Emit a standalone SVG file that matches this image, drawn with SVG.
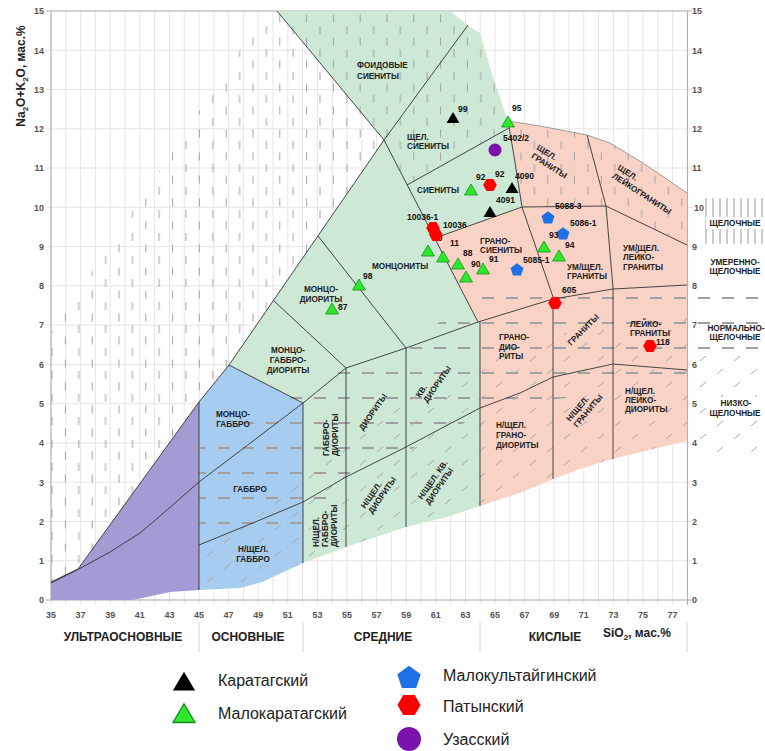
<svg xmlns="http://www.w3.org/2000/svg" width="765" height="751" viewBox="0 0 765 751">
<style>
text { font-family: "Liberation Sans", Arial, sans-serif; }
.rl { font-size: 8.2px; font-weight: bold; fill: #222; }
.pl { font-size: 8.5px; font-weight: bold; fill: #111; }
.ax { font-size: 9px; font-weight: bold; fill: #555; }
.cat { font-size: 12px; font-weight: bold; fill: #222; }
.lg { font-size: 16px; fill: #222; }
.bd { fill: none; stroke: #333; stroke-width: 0.9; stroke-linejoin: round; }
.grid { fill: none; stroke: #dedede; stroke-width: 0.8; }
.k { fill: #000; }
.g { fill: #2ee82e; stroke: #1b8f1b; stroke-width: 0.8; }
.b { fill: #1f6fe6; }
.r { fill: #ff0000; }
.v { fill: #7a12ad; }
</style>
<defs>
<pattern id="pv" patternUnits="userSpaceOnUse" x="51" y="0" width="26.8" height="23"><path d="M1,3v8M14.4,14.5v8" stroke="#a3a3a3" stroke-width="1"/></pattern>
<pattern id="ps" patternUnits="userSpaceOnUse" width="34" height="26"><path d="M3,10l6,-5M20,23l6,-5" stroke="#a8a8a8" stroke-width="1"/></pattern>
<pattern id="ph" patternUnits="userSpaceOnUse" x="0" y="0" width="24" height="25"><path d="M2,23h12" stroke="#a0a0a0" stroke-width="2"/></pattern>
<path id="tri" d="M0,-6 L6.5,5 L-6.5,5 Z"/>
<path id="pen" d="M0,-6.8 L6.5,-2.1 L4,5.5 L-4,5.5 L-6.5,-2.1 Z"/>
<path id="hex" d="M-6.8,0 L-3.4,-5.9 L3.4,-5.9 L6.8,0 L3.4,5.9 L-3.4,5.9 Z"/>
</defs>
<rect width="765" height="751" fill="#fff"/>

<g id="grid">
<path class="grid" d="M51,11V605M65.8,11V605M80.6,11V605M95.4,11V605M110.2,11V605M125,11V605M139.8,11V605M154.6,11V605M169.4,11V605M184.2,11V605M199,11V605M213.8,11V605M228.6,11V605M243.4,11V605M258.2,11V605M273,11V605M287.8,11V605M302.6,11V605M317.4,11V605M332.2,11V605M347,11V605M361.8,11V605M376.6,11V605M391.4,11V605M406.2,11V605M421,11V605M435.8,11V605M450.6,11V605M465.4,11V605M480.2,11V605M495,11V605M509.8,11V605M524.6,11V605M539.4,11V605M554.2,11V605M569,11V605M583.8,11V605M598.6,11V605M613.4,11V605M628.2,11V605M643,11V605M657.8,11V605M672.6,11V605"/>
<path class="grid" d="M46,560.7H692M46,521.5H692M46,482.2H692M46,442.9H692M46,403.7H692M46,364.4H692M46,325.1H692M46,285.8H692M46,246.6H692M46,207.3H692M46,168H692M46,128.8H692M46,89.5H692M46,50.2H692"/>
<path d="M46,11H692M51,11V600M687.4,11V605M46,600H692" fill="none" stroke="#a8a8a8" stroke-width="1"/>
</g>

<g id="fields">
<polygon id="ultra" points="51,582 78,569 199,402 199,590 170,592 133,600 51,600" fill="#a29bd4"/>
<polygon id="basic" points="199,402 229,365 303,403 303,563 262,582 240,588 199,590" fill="#a6cdef"/>
<polygon id="middle" points="229,365 384,140 277,11 450,11 470,27 480,33 493,77 508,121 513,150 522,207 435,238 478,322 480,322 480,506 447,517 406,527 346,547 303,563 303,403" fill="#cde8d4"/>
<polygon id="acid" points="508,121 540,126 587,135 610,143 643,163 687,193 687,441 612,459 583,468 553,479 520,493 480,506 480,322 478,322 435,238 522,207 513,150" fill="#f9d2c6"/>
</g>

<g id="textures">
<polygon points="51,333 266,11 450,11 470,27 480,33 493,77 508,121 540,126 587,135 610,143 643,163 687,193 687,245 606,206 522,207 513,150 509,128 407,185 384,140 229,365 199,402 78,569 51,582" fill="url(#pv)"/>
<polygon points="199,440 303,392 345,368 400,352 407,345 478,295 765,292 765,356 687,356 687,385 500,405 450,430 400,455 346,480 320,505 303,530 199,535" fill="url(#ph)"/>
<polygon points="199,545 303,480 406,400 480,360 553,335 687,315 687,441 612,459 583,468 553,479 520,493 480,506 447,517 406,527 346,547 303,563 262,582 240,588 199,590" fill="url(#ps)"/>
<polygon points="690,356 765,356 765,452 690,452" fill="url(#ps)"/>
<path d="M706,198V244M713,198V244M720,198V244M727,198V244M734,198V244M741,198V244M748,198V244M755,198V244M762,198V244" stroke="#9a9a9a" stroke-width="1"/>
<rect x="706" y="217" width="57" height="12" fill="#fff"/>
<rect x="707" y="397" width="57" height="22" fill="#fff"/>
</g>

<g id="connectors">
<polyline class="bd" points="51,582 78,569 199,402 229,365 384,140 468,25"/>
<polyline class="bd" points="277,11 384,140 478,322"/>
<polyline class="bd" points="51,583 77,570 110,552 140,533 167,510 199,482 303,403"/>
<polyline class="bd" points="199,545 260,520 303,502 346,477 406,447 480,408 520,393 553,377 613,364 687,370"/>
<path class="bd" d="M199,402V590M303,403V563M346,368V547M406,348V527M480,322V506M553,297V479M613,288V459"/>
<polyline class="bd" points="508,121 513,150 522,207 553,297"/>
<polyline class="bd" points="606,206 613,288"/>
<polyline class="bd" points="229,365 303,403"/>
<polyline class="bd" points="273,300 346,368"/>
<polyline class="bd" points="303,403 346,368 406,348 478,322 553,299 613,289 687,285"/>
<polyline class="bd" points="318,236 406,348"/>
<polyline class="bd" points="407,185 509,128"/>
<polyline class="bd" points="435,238 522,207 606,206 687,245"/>
<polyline class="bd" points="587,135 606,206"/>
<polyline points="508,121 540,126 587,135 610,143 643,163 687,193" fill="none" stroke="#8a8a8a" stroke-width="0.8"/>
<path d="M199,622V652M303,622V652M480,622V652M687,622V652" stroke="#d0d0d0" stroke-width="1"/>
</g>

<g id="field-labels">
<text class="rl" x="357" y="68">ФОИДОВЫЕ</text>
<text class="rl" x="357" y="79">СИЕНИТЫ</text>
<text class="rl" x="407" y="140">ЩЕЛ.</text>
<text class="rl" x="407" y="149">СИЕНИТЫ</text>
<text class="rl" x="417" y="193">СИЕНИТЫ</text>
<text class="rl" x="480" y="244">ГРАНО-</text>
<text class="rl" x="480" y="253">СИЕНИТЫ</text>
<text class="rl" x="372" y="269">МОНЦОНИТЫ</text>
<text class="rl" text-anchor="middle" x="321" y="292">МОНЦО-</text>
<text class="rl" text-anchor="middle" x="321" y="302">ДИОРИТЫ</text>
<text class="rl" text-anchor="middle" x="288" y="353">МОНЦО-</text>
<text class="rl" text-anchor="middle" x="288" y="363">ГАББРО-</text>
<text class="rl" text-anchor="middle" x="288" y="373">ДИОРИТЫ</text>
<text class="rl" text-anchor="middle" x="233" y="417">МОНЦО-</text>
<text class="rl" text-anchor="middle" x="233" y="427">ГАББРО</text>
<text class="rl" text-anchor="middle" x="250" y="492">ГАББРО</text>
<text class="rl" text-anchor="middle" x="253" y="552">Н/ЩЕЛ.</text>
<text class="rl" text-anchor="middle" x="253" y="562">ГАББРО</text>
<text class="rl" transform="translate(329,456) rotate(-90)"><tspan x="0" y="0">ГАББРО-</tspan><tspan x="0" y="9">ДИОРИТЫ</tspan></text>
<text class="rl" transform="translate(319,547) rotate(-90)"><tspan x="0" y="0">Н/ЩЕЛ.</tspan><tspan x="0" y="9">ГАББРО-</tspan><tspan x="0" y="18">ДИОРИТЫ</tspan></text>
<text class="rl" transform="translate(363,431) rotate(-55)">ДИОРИТЫ</text>
<text class="rl" transform="translate(420,398) rotate(-55)"><tspan x="0" y="0">КВ.</tspan><tspan x="0" y="9">ДИОРИТЫ</tspan></text>
<text class="rl" transform="translate(365,509) rotate(-55)"><tspan x="0" y="0">Н/ЩЕЛ.</tspan><tspan x="0" y="9">ДИОРИТЫ</tspan></text>
<text class="rl" transform="translate(422,500) rotate(-55)"><tspan x="0" y="0">Н/ЩЕЛ. КВ.</tspan><tspan x="0" y="9">ДИОРИТЫ</tspan></text>
<text class="rl" transform="translate(536,149) rotate(32)"><tspan x="0" y="0">ЩЕЛ.</tspan><tspan x="0" y="10">ГРАНИТЫ</tspan></text>
<text class="rl" transform="translate(617,169) rotate(33)"><tspan x="0" y="0">ЩЕЛ.</tspan><tspan x="0" y="10">ЛЕЙКОГРАНИТЫ</tspan></text>
<text class="rl" x="567" y="270">УМ/ЩЕЛ.</text>
<text class="rl" x="567" y="279">ГРАНИТЫ</text>
<text class="rl" x="623" y="251">УМ/ЩЕЛ.</text>
<text class="rl" x="623" y="260">ЛЕЙКО-</text>
<text class="rl" x="623" y="270">ГРАНИТЫ</text>
<text class="rl" x="499" y="340">ГРАНО-</text>
<text class="rl" x="499" y="350">ДИО-</text>
<text class="rl" x="499" y="359">РИТЫ</text>
<text class="rl" transform="translate(571,346) rotate(-45)">ГРАНИТЫ</text>
<text class="rl" x="630" y="327">ЛЕЙКО-</text>
<text class="rl" x="630" y="336">ГРАНИТЫ</text>
<text class="rl" x="496" y="428">Н/ЩЕЛ.</text>
<text class="rl" x="496" y="438">ГРАНО-</text>
<text class="rl" x="496" y="448">ДИОРИТЫ</text>
<text class="rl" transform="translate(570,422) rotate(-50)"><tspan x="0" y="0">Н/ЩЕЛ.</tspan><tspan x="0" y="9.5">ГРАНИТЫ</tspan></text>
<text class="rl" x="625" y="394">Н/ЩЕЛ.</text>
<text class="rl" x="625" y="403">ЛЕЙКО-</text>
<text class="rl" x="625" y="412">ДИОРИТЫ</text>
</g>

<g id="series-labels">
<text class="rl" text-anchor="middle" x="735" y="226">ЩЕЛОЧНЫЕ</text>
<text class="rl" text-anchor="middle" x="735" y="265">УМЕРЕННО-</text>
<text class="rl" text-anchor="middle" x="735" y="274">ЩЕЛОЧНЫЕ</text>
<text class="rl" text-anchor="middle" x="736" y="331">НОРМАЛЬНО-</text>
<text class="rl" text-anchor="middle" x="735" y="340">ЩЕЛОЧНЫЕ</text>
<text class="rl" text-anchor="middle" x="736" y="406">НИЗКО-</text>
<text class="rl" text-anchor="middle" x="735" y="416">ЩЕЛОЧНЫЕ</text>
</g>

<g id="axes">
<g class="ax" text-anchor="end">
<text x="44" y="603.3">0</text><text x="44" y="564">1</text><text x="44" y="524.8">2</text><text x="44" y="485.5">3</text><text x="44" y="446.2">4</text><text x="44" y="407">5</text><text x="44" y="367.7">6</text><text x="44" y="328.4">7</text><text x="44" y="289.1">8</text><text x="44" y="249.9">9</text><text x="44" y="210.6">10</text><text x="44" y="171.3">11</text><text x="44" y="132.1">12</text><text x="44" y="92.8">13</text><text x="44" y="53.5">14</text><text x="44" y="14.3">15</text>
</g>
<g class="ax">
<text x="692" y="603.3">0</text><text x="692" y="564">1</text><text x="692" y="524.8">2</text><text x="692" y="485.5">3</text><text x="692" y="446.2">4</text><text x="692" y="407">5</text><text x="692" y="367.7">6</text><text x="692" y="328.4">7</text><text x="692" y="289.1">8</text><text x="692" y="249.9">9</text><text x="694" y="210.6">10</text><text x="692" y="171.3">11</text><text x="692" y="132.1">12</text><text x="692" y="92.8">13</text><text x="692" y="53.5">14</text><text x="692" y="14.3">15</text>
</g>
<g class="ax" text-anchor="middle">
<text x="51" y="618">35</text><text x="80.6" y="618">37</text><text x="110.2" y="618">39</text><text x="139.8" y="618">41</text><text x="169.4" y="618">43</text><text x="199" y="618">45</text><text x="228.6" y="618">47</text><text x="258.2" y="618">49</text><text x="287.8" y="618">51</text><text x="317.4" y="618">53</text><text x="347" y="618">55</text><text x="376.6" y="618">57</text><text x="406.2" y="618">59</text><text x="435.8" y="618">61</text><text x="465.4" y="618">63</text><text x="495" y="618">65</text><text x="524.6" y="618">67</text><text x="554.2" y="618">69</text><text x="583.8" y="618">71</text><text x="613.4" y="618">73</text><text x="643" y="618">75</text><text x="672.6" y="618">77</text>
</g>
<text font-size="12" font-weight="bold" fill="#222" text-anchor="middle" transform="translate(25,76) rotate(-90)">Na<tspan font-size="8" dy="2.5">2</tspan><tspan dy="-2.5">O+K</tspan><tspan font-size="8" dy="2.5">2</tspan><tspan dy="-2.5">O, мас.%</tspan></text>
<text class="cat" text-anchor="middle" x="123" y="641">УЛЬТРАОСНОВНЫЕ</text>
<text class="cat" text-anchor="middle" x="248" y="641">ОСНОВНЫЕ</text>
<text class="cat" text-anchor="middle" x="383" y="641">СРЕДНИЕ</text>
<text class="cat" text-anchor="middle" x="555" y="641">КИСЛЫЕ</text>
<text class="cat" x="603" y="637">SiO<tspan font-size="8" dy="2.5">2</tspan><tspan dy="-2.5">, мас.%</tspan></text>
</g>

<g id="points">
<text class="pl" x="433" y="241">40</text>
<use href="#tri" class="k" x="453" y="118"/><text class="pl" x="458" y="112">99</text>
<use href="#tri" class="k" x="512" y="188"/><text class="pl" x="515" y="179">4090</text>
<use href="#tri" class="k" x="490" y="212"/><text class="pl" x="496" y="203">4091</text>
<use href="#tri" class="g" x="508" y="122"/><text class="pl" x="512" y="111">95</text>
<circle class="v" cx="495" cy="150" r="6.5"/><text class="pl" x="503" y="141">5402/2</text>
<use href="#tri" class="g" x="471" y="190"/><text class="pl" x="476" y="180">92</text>
<use href="#hex" class="r" x="490" y="185"/><text class="pl" x="495" y="177">92</text>
<use href="#hex" class="r" x="433" y="228"/><text class="pl" x="407" y="220">10036-1</text>
<use href="#hex" class="r" x="436" y="235"/><text class="pl" x="443" y="228">10036</text>
<text class="pl" x="471" y="267">90</text>
<use href="#tri" class="g" x="428" y="251"/>
<use href="#tri" class="g" x="443" y="257"/><text class="pl" x="450" y="246">11</text>
<use href="#tri" class="g" x="458" y="264"/><text class="pl" x="463" y="256">88</text>
<use href="#tri" class="g" x="466" y="277"/>
<use href="#tri" class="g" x="483" y="269"/><text class="pl" x="489" y="262">91</text>
<use href="#tri" class="g" x="359" y="285"/><text class="pl" x="363" y="279">98</text>
<use href="#tri" class="g" x="332" y="309"/><text class="pl" x="338" y="310">87</text>
<use href="#pen" class="b" x="548" y="218"/><text class="pl" x="555" y="209">5088-3</text>
<use href="#pen" class="b" x="563" y="234"/><text class="pl" x="570" y="226">5086-1</text>
<text class="pl" x="549" y="238">93</text>
<use href="#tri" class="g" x="544" y="247"/>
<use href="#tri" class="g" x="559" y="256"/><text class="pl" x="565" y="248">94</text>
<use href="#pen" class="b" x="517" y="270"/><text class="pl" x="523" y="263">5085-1</text>
<use href="#hex" class="r" x="555" y="303"/><text class="pl" x="562" y="293">605</text>
<use href="#hex" class="r" x="650" y="346"/><text class="pl" x="656" y="345">118</text>
</g>

<g id="legend">
<use href="#tri" class="k" transform="translate(184,682) scale(1.7)"/>
<text class="lg" x="218" y="686">Каратагский</text>
<use href="#tri" class="g" transform="translate(184,714) scale(1.7)"/>
<text class="lg" x="218" y="719">Малокаратагский</text>
<use href="#pen" class="b" transform="translate(409,678) scale(1.8)"/>
<text class="lg" x="443" y="681">Малокультайгинский</text>
<use href="#hex" class="r" transform="translate(409,705) scale(1.7)"/>
<text class="lg" x="443" y="712">Патынский</text>
<circle class="v" cx="409" cy="739" r="12"/>
<text class="lg" x="443" y="745">Узасский</text>
</g>
</svg>
